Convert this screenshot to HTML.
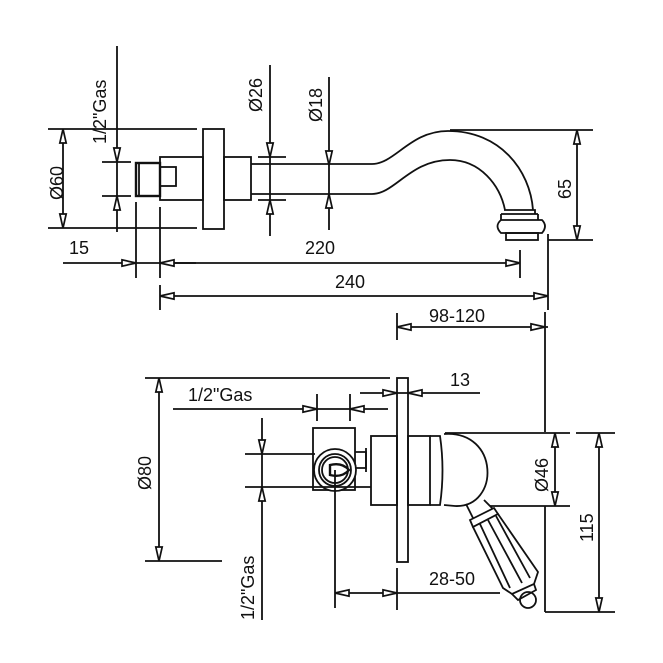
<!DOCTYPE html>
<html><head><meta charset="utf-8"><style>
html,body{margin:0;padding:0;background:#fff;width:663px;height:663px;overflow:hidden}
svg{display:block}
text{font-family:"Liberation Sans",Arial,sans-serif;font-size:18px;fill:#111}
</style></head><body>
<svg width="663" height="663" viewBox="0 0 663 663" xmlns="http://www.w3.org/2000/svg">
<defs>
<polygon id="a" points="0,0 -14,-3.2 -14,3.2" fill="#fff" stroke="#111" stroke-width="1.7"/>
</defs>
<g stroke="#111" stroke-width="1.8" fill="none">
<line x1="48" y1="129" x2="197" y2="129"/><line x1="48" y1="228" x2="197" y2="228"/>
<line x1="63" y1="129" x2="63" y2="228"/>
<line x1="117" y1="46" x2="117" y2="232"/>
<line x1="102" y1="162" x2="131" y2="162"/><line x1="102" y1="196" x2="131" y2="196"/>
<rect x="136" y="163" width="24" height="33" stroke-width="2.4"/>
<line x1="139" y1="163" x2="139" y2="196"/>
<rect x="160" y="167" width="16" height="19"/>
<rect x="160" y="157" width="43" height="43"/>
<rect x="203" y="129" width="21" height="100"/>
<rect x="224" y="157" width="27" height="43"/>
<line x1="270" y1="65" x2="270" y2="236"/>
<line x1="258" y1="157" x2="286" y2="157"/><line x1="258" y1="200" x2="286" y2="200"/>
<line x1="329" y1="77" x2="329" y2="230"/>
<path d="M251,164 L372,164 C395,164 410,131 448,131 C500,131 530,170 533,210"/>
<path d="M251,194 L372,194 C395,194 410,160 450,160 C480,160 500,185 505,210"/>
<path d="M504,210 L535,210 L535,214"/>
<line x1="501" y1="214" x2="538" y2="214"/>
<line x1="501" y1="214" x2="501" y2="220"/><line x1="538" y1="214" x2="538" y2="220"/>
<path d="M501,220 L542,220 Q548,226 542,233 L501,233 Q494,226 501,220 Z"/>
<rect x="506" y="233" width="32" height="7"/>
<line x1="450" y1="130" x2="593" y2="130"/><line x1="548" y1="240" x2="593" y2="240"/>
<line x1="577" y1="130" x2="577" y2="240"/>
<line x1="63" y1="263" x2="196" y2="263"/>
<line x1="136" y1="202" x2="136" y2="278"/><line x1="160" y1="207" x2="160" y2="278"/>
<line x1="160" y1="263" x2="520" y2="263"/>
<line x1="520" y1="250" x2="520" y2="278"/>
<line x1="160" y1="285" x2="160" y2="310"/>
<line x1="160" y1="296" x2="548" y2="296"/>
<line x1="548" y1="234" x2="548" y2="310"/>
<line x1="397" y1="313" x2="397" y2="340"/>
<line x1="397" y1="327" x2="548" y2="327"/>
<line x1="545" y1="312" x2="545" y2="432"/>

<line x1="145" y1="378" x2="390" y2="378"/><line x1="145" y1="561" x2="222" y2="561"/>
<line x1="159" y1="378" x2="159" y2="561"/>
<line x1="173" y1="409" x2="388" y2="409"/>
<line x1="317" y1="394" x2="317" y2="421"/><line x1="350" y1="394" x2="350" y2="421"/>
<line x1="360" y1="393" x2="480" y2="393"/>
<rect x="397" y="378" width="11" height="184"/>
<rect x="371" y="436" width="26" height="69"/>
<rect x="408" y="436" width="22" height="69"/>
<path d="M430,436 L440,436 Q445,470 440,505 L430,505"/>
<path d="M444,434 C500,430 500,508 455,506 L444,505"/>
<rect x="313" y="428" width="42" height="62"/>
<circle cx="335" cy="470" r="21" fill="#fff"/>
<circle cx="335" cy="470" r="16"/><circle cx="335" cy="470" r="13"/>
<path d="M330,465 Q342,462 349,470 Q342,478 330,475 Z" stroke-width="2.4"/>
<path d="M355,452 L366,452 L366,468 L355,468"/>
<line x1="366" y1="448" x2="366" y2="472"/>
<line x1="262" y1="418" x2="262" y2="620"/>
<line x1="245" y1="454" x2="315" y2="454"/><line x1="245" y1="487" x2="371" y2="487"/>
<line x1="335" y1="470" x2="335" y2="608"/>
<line x1="397" y1="568" x2="397" y2="610"/>
<line x1="335" y1="593" x2="500" y2="593"/>
<line x1="445" y1="433" x2="570" y2="433"/><line x1="490" y1="506" x2="570" y2="506"/>
<line x1="555" y1="433" x2="555" y2="506"/>
<line x1="576" y1="433" x2="615" y2="433"/>
<line x1="545" y1="612" x2="615" y2="612"/>
<line x1="599" y1="433" x2="599" y2="612"/>
<line x1="545" y1="506" x2="545" y2="612"/>
<path d="M466,504 L474,520 M484,500 L496,512"/>
<circle cx="528" cy="600" r="8" fill="#fff"/>
<polygon points="470,520 494,508 498,514 473,527" fill="#fff"/>
<polygon points="473,527 498,514 538,572 534,584 512,594 503,588" fill="#fff"/>
<path d="M480,524 L510,588 M488,520 L522,583 M496,516 L530,578"/>
<path d="M512,594 L518,600 L536,590 L534,584"/>
</g>
<g>
<use href="#a" transform="translate(63,129) rotate(-90)"/><use href="#a" transform="translate(63,228) rotate(90)"/>
<use href="#a" transform="translate(117,162) rotate(90)"/><use href="#a" transform="translate(117,196) rotate(-90)"/>
<use href="#a" transform="translate(270,157) rotate(90)"/><use href="#a" transform="translate(270,200) rotate(-90)"/>
<use href="#a" transform="translate(329,165) rotate(90)"/><use href="#a" transform="translate(329,194) rotate(-90)"/>
<use href="#a" transform="translate(577,130) rotate(-90)"/><use href="#a" transform="translate(577,240) rotate(90)"/>
<use href="#a" transform="translate(136,263)"/><use href="#a" transform="translate(160,263) rotate(180)"/>
<use href="#a" transform="translate(520,263)"/>
<use href="#a" transform="translate(160,296) rotate(180)"/><use href="#a" transform="translate(548,296)"/>
<use href="#a" transform="translate(397,327) rotate(180)"/><use href="#a" transform="translate(545,327)"/>
<use href="#a" transform="translate(159,378) rotate(-90)"/><use href="#a" transform="translate(159,561) rotate(90)"/>
<use href="#a" transform="translate(317,409)"/><use href="#a" transform="translate(350,409) rotate(180)"/>
<use href="#a" transform="translate(397,393)"/><use href="#a" transform="translate(408,393) rotate(180)"/>
<use href="#a" transform="translate(262,454) rotate(90)"/><use href="#a" transform="translate(262,487) rotate(-90)"/>
<use href="#a" transform="translate(335,593) rotate(180)"/><use href="#a" transform="translate(397,593)"/>
<use href="#a" transform="translate(555,433) rotate(-90)"/><use href="#a" transform="translate(555,506) rotate(90)"/>
<use href="#a" transform="translate(599,433) rotate(-90)"/><use href="#a" transform="translate(599,612) rotate(90)"/>
</g>
<text transform="translate(106,144) rotate(-90)">1/2"Gas</text>
<text transform="translate(63,200) rotate(-90)">Ø60</text>
<text transform="translate(262,112) rotate(-90)">Ø26</text>
<text transform="translate(322,122) rotate(-90)">Ø18</text>
<text transform="translate(571,199) rotate(-90)">65</text>
<text x="69" y="254">15</text>
<text x="305" y="254">220</text>
<text x="335" y="288">240</text>
<text x="429" y="322">98-120</text>
<text x="188" y="401">1/2"Gas</text>
<text x="450" y="386">13</text>
<text transform="translate(151,490) rotate(-90)">Ø80</text>
<text transform="translate(254,620) rotate(-90)">1/2"Gas</text>
<text x="429" y="585">28-50</text>
<text transform="translate(548,492) rotate(-90)">Ø46</text>
<text transform="translate(593,542) rotate(-90)">115</text>
</svg>
</body></html>
